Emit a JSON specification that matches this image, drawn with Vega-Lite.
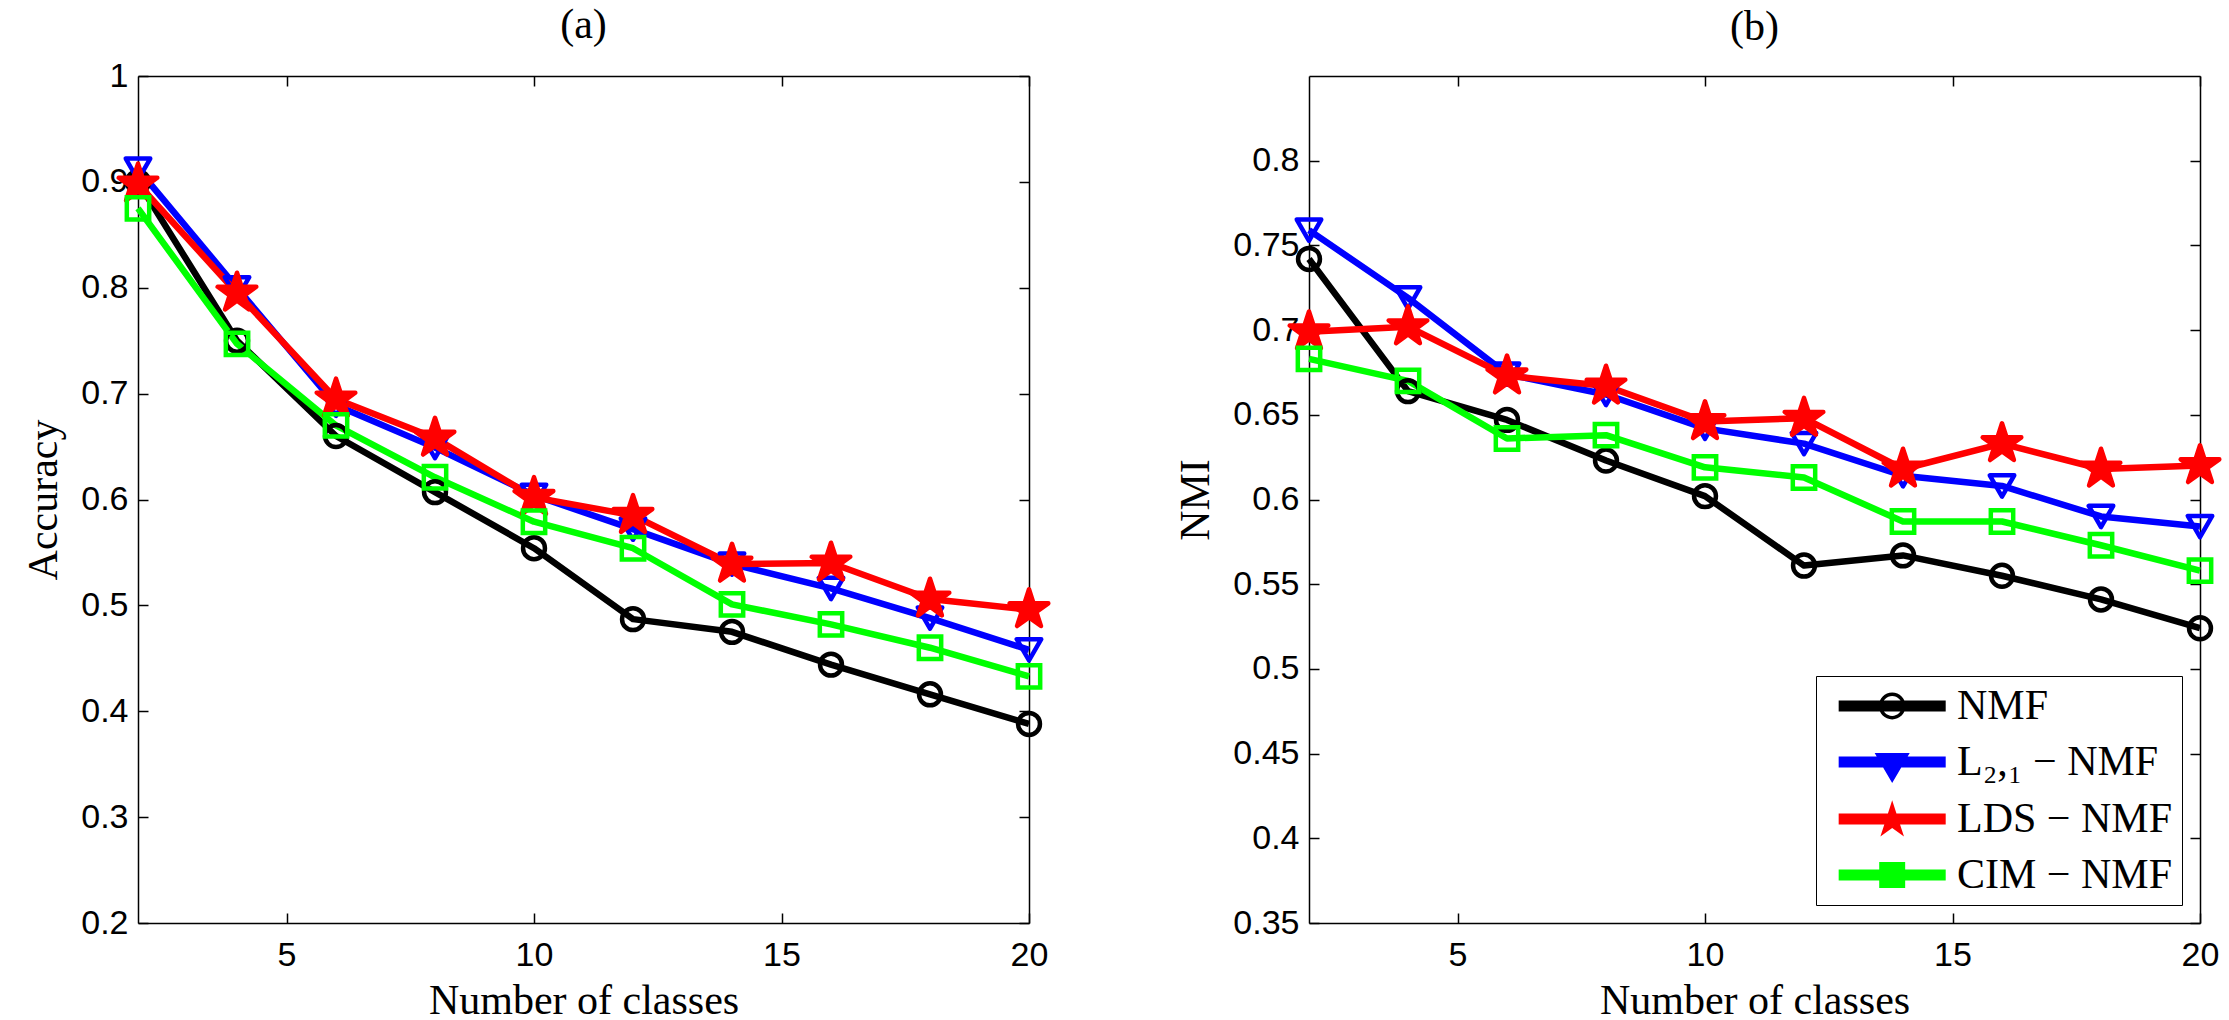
{
  "$schema": "https://vega.github.io/schema/vega-lite/v6.json",
  "autosize": "none",
  "padding": {"left": 138, "top": 76, "right": 2091, "bottom": 944},
  "background": "white",
  "datasets": {
    "acc": [
      {"method": "NMF", "k": 2, "v": 0.900}, {"method": "NMF", "k": 4, "v": 0.750}, {"method": "NMF", "k": 6, "v": 0.660}, {"method": "NMF", "k": 8, "v": 0.607}, {"method": "NMF", "k": 10, "v": 0.554},
      {"method": "NMF", "k": 12, "v": 0.487}, {"method": "NMF", "k": 14, "v": 0.475}, {"method": "NMF", "k": 16, "v": 0.444}, {"method": "NMF", "k": 18, "v": 0.416}, {"method": "NMF", "k": 20, "v": 0.388},
      {"method": "L₂,₁ − NMF", "k": 2, "v": 0.912}, {"method": "L₂,₁ − NMF", "k": 4, "v": 0.800}, {"method": "L₂,₁ − NMF", "k": 6, "v": 0.689}, {"method": "L₂,₁ − NMF", "k": 8, "v": 0.649}, {"method": "L₂,₁ − NMF", "k": 10, "v": 0.604},
      {"method": "L₂,₁ − NMF", "k": 12, "v": 0.572}, {"method": "L₂,₁ − NMF", "k": 14, "v": 0.539}, {"method": "L₂,₁ − NMF", "k": 16, "v": 0.516}, {"method": "L₂,₁ − NMF", "k": 18, "v": 0.488}, {"method": "L₂,₁ − NMF", "k": 20, "v": 0.458},
      {"method": "LDS − NMF", "k": 2, "v": 0.898}, {"method": "LDS − NMF", "k": 4, "v": 0.795}, {"method": "LDS − NMF", "k": 6, "v": 0.695}, {"method": "LDS − NMF", "k": 8, "v": 0.658}, {"method": "LDS − NMF", "k": 10, "v": 0.602},
      {"method": "LDS − NMF", "k": 12, "v": 0.585}, {"method": "LDS − NMF", "k": 14, "v": 0.539}, {"method": "LDS − NMF", "k": 16, "v": 0.540}, {"method": "LDS − NMF", "k": 18, "v": 0.506}, {"method": "LDS − NMF", "k": 20, "v": 0.496},
      {"method": "CIM − NMF", "k": 2, "v": 0.875}, {"method": "CIM − NMF", "k": 4, "v": 0.747}, {"method": "CIM − NMF", "k": 6, "v": 0.670}, {"method": "CIM − NMF", "k": 8, "v": 0.621}, {"method": "CIM − NMF", "k": 10, "v": 0.579},
      {"method": "CIM − NMF", "k": 12, "v": 0.554}, {"method": "CIM − NMF", "k": 14, "v": 0.501}, {"method": "CIM − NMF", "k": 16, "v": 0.482}, {"method": "CIM − NMF", "k": 18, "v": 0.460}, {"method": "CIM − NMF", "k": 20, "v": 0.433}
    ],
    "nmi": [
      {"method": "NMF", "k": 2, "v": 0.742}, {"method": "NMF", "k": 4, "v": 0.664}, {"method": "NMF", "k": 6, "v": 0.647}, {"method": "NMF", "k": 8, "v": 0.623}, {"method": "NMF", "k": 10, "v": 0.602},
      {"method": "NMF", "k": 12, "v": 0.561}, {"method": "NMF", "k": 14, "v": 0.567}, {"method": "NMF", "k": 16, "v": 0.555}, {"method": "NMF", "k": 18, "v": 0.541}, {"method": "NMF", "k": 20, "v": 0.524},
      {"method": "L₂,₁ − NMF", "k": 2, "v": 0.759}, {"method": "L₂,₁ − NMF", "k": 4, "v": 0.719}, {"method": "L₂,₁ − NMF", "k": 6, "v": 0.674}, {"method": "L₂,₁ − NMF", "k": 8, "v": 0.662}, {"method": "L₂,₁ − NMF", "k": 10, "v": 0.642},
      {"method": "L₂,₁ − NMF", "k": 12, "v": 0.633}, {"method": "L₂,₁ − NMF", "k": 14, "v": 0.614}, {"method": "L₂,₁ − NMF", "k": 16, "v": 0.608}, {"method": "L₂,₁ − NMF", "k": 18, "v": 0.590}, {"method": "L₂,₁ − NMF", "k": 20, "v": 0.584},
      {"method": "LDS − NMF", "k": 2, "v": 0.699}, {"method": "LDS − NMF", "k": 4, "v": 0.702}, {"method": "LDS − NMF", "k": 6, "v": 0.673}, {"method": "LDS − NMF", "k": 8, "v": 0.667}, {"method": "LDS − NMF", "k": 10, "v": 0.646},
      {"method": "LDS − NMF", "k": 12, "v": 0.648}, {"method": "LDS − NMF", "k": 14, "v": 0.618}, {"method": "LDS − NMF", "k": 16, "v": 0.633}, {"method": "LDS − NMF", "k": 18, "v": 0.618}, {"method": "LDS − NMF", "k": 20, "v": 0.620},
      {"method": "CIM − NMF", "k": 2, "v": 0.683}, {"method": "CIM − NMF", "k": 4, "v": 0.670}, {"method": "CIM − NMF", "k": 6, "v": 0.636}, {"method": "CIM − NMF", "k": 8, "v": 0.638}, {"method": "CIM − NMF", "k": 10, "v": 0.619},
      {"method": "CIM − NMF", "k": 12, "v": 0.613}, {"method": "CIM − NMF", "k": 14, "v": 0.587}, {"method": "CIM − NMF", "k": 16, "v": 0.587}, {"method": "CIM − NMF", "k": 18, "v": 0.573}, {"method": "CIM − NMF", "k": 20, "v": 0.558}
    ]
  },
  "spacing": 280,
  "bounds": "flush",
  "resolve": {"legend": {"color": "independent"}},
  "hconcat": [
    {
      "width": 891,
      "height": 847,
      "title": {"text": "(a)", "font": "Liberation Serif", "fontSize": 42, "fontWeight": "normal", "color": "#000000", "anchor": "middle", "frame": "group", "baseline": "alphabetic", "offset": 26, "dy": 47},
      "data": {"name": "acc"},
      "layer": [
        {
          "mark": {"type": "line", "strokeWidth": 6.5, "strokeJoin": "round"},
          "encoding": {
            "x": {"field": "k", "type": "quantitative", "scale": {"domain": [2, 20], "nice": false, "zero": false},
                  "axis": {"orient": "bottom", "values": [5, 10, 15, 20], "title": "Number of classes", "labelPadding": 25, "titleX": 445.5, "titleY": 90, "titleBaseline": "alphabetic"}},
            "y": {"field": "v", "type": "quantitative", "scale": {"domain": [0.2, 1], "nice": false, "zero": false},
                  "axis": {"orient": "left", "values": [0.2, 0.3, 0.4, 0.5, 0.6, 0.7, 0.8, 0.9, 1], "format": ".2~f", "title": "Accuracy", "labelPadding": 20, "titleX": -95, "titleY": 423.5, "titleBaseline": "middle", "titleAngle": -90}},
            "color": {"field": "method", "type": "nominal", "scale": {"domain": ["NMF", "L₂,₁ − NMF", "LDS − NMF", "CIM − NMF"], "range": ["#000000", "#0000ff", "#ff0000", "#00ff00"]}, "legend": null}
          }
        },
        {
          "transform": [{"filter": "datum.method === 'NMF'"}],
          "mark": {"type": "point", "shape": "circle", "size": 480, "filled": false, "color": "#000000", "strokeWidth": 4.5, "opacity": 1},
          "encoding": {
            "x": {"field": "k", "type": "quantitative", "axis": {"orient": "top", "values": [5, 10, 15, 20], "labels": false, "title": null}},
            "y": {"field": "v", "type": "quantitative", "axis": {"orient": "right", "values": [0.2, 0.3, 0.4, 0.5, 0.6, 0.7, 0.8, 0.9, 1], "labels": false, "title": null}}
          }
        },
        {
          "transform": [{"filter": "indexof(datum.method, 'L₂') >= 0"}],
          "mark": {"type": "point", "shape": "triangle-down", "size": 600, "filled": false, "color": "#0000ff", "strokeWidth": 4.5, "strokeJoin": "round", "opacity": 1},
          "encoding": {
            "x": {"field": "k", "type": "quantitative", "axis": null},
            "y": {"field": "v", "type": "quantitative", "axis": null}
          }
        },
        {
          "transform": [{"filter": "indexof(datum.method, 'LDS') >= 0"}],
          "mark": {"type": "point", "shape": "M0,-1L0.2245,-0.309L0.9511,-0.309L0.3633,0.118L0.5878,0.809L0,0.382L-0.5878,0.809L-0.3633,0.118L-0.9511,-0.309L-0.2245,-0.309Z", "size": 1650, "filled": true, "fill": "#ff0000", "stroke": "#ff0000", "strokeWidth": 4.5, "strokeJoin": "round", "opacity": 1},
          "encoding": {
            "x": {"field": "k", "type": "quantitative", "axis": null},
            "y": {"field": "v", "type": "quantitative", "axis": null}
          }
        },
        {
          "transform": [{"filter": "indexof(datum.method, 'CIM') >= 0"}],
          "mark": {"type": "point", "shape": "square", "size": 500, "filled": false, "color": "#00ff00", "strokeWidth": 4.5, "opacity": 1},
          "encoding": {
            "x": {"field": "k", "type": "quantitative", "axis": null},
            "y": {"field": "v", "type": "quantitative", "axis": null}
          }
        }
      ]
    },
    {
      "width": 891,
      "height": 847,
      "title": {"text": "(b)", "font": "Liberation Serif", "fontSize": 42, "fontWeight": "normal", "color": "#000000", "anchor": "middle", "frame": "group", "baseline": "alphabetic", "offset": 26, "dy": 33},
      "data": {"name": "nmi"},
      "layer": [
        {
          "mark": {"type": "line", "strokeWidth": 6.5, "strokeJoin": "round"},
          "encoding": {
            "x": {"field": "k", "type": "quantitative", "scale": {"domain": [2, 20], "nice": false, "zero": false},
                  "axis": {"orient": "bottom", "values": [5, 10, 15, 20], "title": "Number of classes", "labelPadding": 25, "titleX": 445.5, "titleY": 90, "titleBaseline": "alphabetic"}},
            "y": {"field": "v", "type": "quantitative", "scale": {"domain": [0.35, 0.85], "nice": false, "zero": false},
                  "axis": {"orient": "left", "values": [0.35, 0.4, 0.45, 0.5, 0.55, 0.6, 0.65, 0.7, 0.75, 0.8], "format": ".2~f", "title": "NMI", "labelPadding": 20, "titleX": -114, "titleY": 423.5, "titleBaseline": "middle", "titleAngle": -90}},
            "color": {"field": "method", "type": "nominal", "scale": {"domain": ["NMF", "L₂,₁ − NMF", "LDS − NMF", "CIM − NMF"], "range": ["#000000", "#0000ff", "#ff0000", "#00ff00"]},
              "legend": {
                "orient": "bottom-right", "offset": 18, "title": null, "padding": 9, "rowPadding": 14,
                "symbolSize": 716, "symbolOffset": 11, "labelOffset": 79, "symbolStrokeWidth": 0,
                "labelFont": "Liberation Serif", "labelFontSize": 42, "labelColor": "#000000", "labelLimit": 500,
                "strokeColor": "#000000", "fillColor": "#ffffff",
                "encode": {
                  "symbols": {
                    "update": {
                      "shape": {"signal": "datum.value === 'NMF' ? 'M-1.37,-0.41H6.63V0.41H-1.37Z M3.63,0A1,1,0,1,1,1.63,0A1,1,0,1,1,3.63,0Z M3.37,0A0.74,0.74,0,1,0,1.89,0A0.74,0.74,0,1,0,3.37,0Z' : indexof(datum.value, 'LDS') >= 0 ? 'M-1.37,-0.41H6.63V0.41H-1.37Z M2.63,-1.4L2.967,-0.364L4.057,-0.364L3.175,0.277L3.512,1.314L2.63,0.673L1.748,1.314L2.085,0.277L1.203,-0.364L2.293,-0.364Z' : indexof(datum.value, 'CIM') >= 0 ? 'M-1.37,-0.41H6.63V0.41H-1.37Z M1.66,-0.97H3.6V0.97H1.66Z' : 'M-1.37,-0.41H6.63V0.41H-1.37Z M1.32,-0.67L3.94,-0.67L2.63,1.57Z'"},
                      "fill": {"signal": "datum.value === 'NMF' ? '#000000' : indexof(datum.value, 'LDS') >= 0 ? '#ff0000' : indexof(datum.value, 'CIM') >= 0 ? '#00ff00' : '#0000ff'"},
                      "stroke": {"value": "transparent"},
                      "strokeWidth": {"value": 0},
                      "opacity": {"value": 1},
                      "size": {"value": 716}
                    }
                  }
                }
              }
            }
          }
        },
        {
          "transform": [{"filter": "datum.method === 'NMF'"}],
          "mark": {"type": "point", "shape": "circle", "size": 480, "filled": false, "color": "#000000", "strokeWidth": 4.5, "opacity": 1},
          "encoding": {
            "x": {"field": "k", "type": "quantitative", "axis": {"orient": "top", "values": [5, 10, 15, 20], "labels": false, "title": null}},
            "y": {"field": "v", "type": "quantitative", "axis": {"orient": "right", "values": [0.35, 0.4, 0.45, 0.5, 0.55, 0.6, 0.65, 0.7, 0.75, 0.8], "labels": false, "title": null}}
          }
        },
        {
          "transform": [{"filter": "indexof(datum.method, 'L₂') >= 0"}],
          "mark": {"type": "point", "shape": "triangle-down", "size": 600, "filled": false, "color": "#0000ff", "strokeWidth": 4.5, "strokeJoin": "round", "opacity": 1},
          "encoding": {
            "x": {"field": "k", "type": "quantitative", "axis": null},
            "y": {"field": "v", "type": "quantitative", "axis": null}
          }
        },
        {
          "transform": [{"filter": "indexof(datum.method, 'LDS') >= 0"}],
          "mark": {"type": "point", "shape": "M0,-1L0.2245,-0.309L0.9511,-0.309L0.3633,0.118L0.5878,0.809L0,0.382L-0.5878,0.809L-0.3633,0.118L-0.9511,-0.309L-0.2245,-0.309Z", "size": 1650, "filled": true, "fill": "#ff0000", "stroke": "#ff0000", "strokeWidth": 4.5, "strokeJoin": "round", "opacity": 1},
          "encoding": {
            "x": {"field": "k", "type": "quantitative", "axis": null},
            "y": {"field": "v", "type": "quantitative", "axis": null}
          }
        },
        {
          "transform": [{"filter": "indexof(datum.method, 'CIM') >= 0"}],
          "mark": {"type": "point", "shape": "square", "size": 500, "filled": false, "color": "#00ff00", "strokeWidth": 4.5, "opacity": 1},
          "encoding": {
            "x": {"field": "k", "type": "quantitative", "axis": null},
            "y": {"field": "v", "type": "quantitative", "axis": null}
          }
        }
      ]
    }
  ],
  "config": {
    "view": {"stroke": null},
    "axis": {
      "grid": false, "domainColor": "#000000", "domainWidth": 1.5, "tickColor": "#000000", "tickWidth": 1.5, "tickSize": -10,
      "labelFont": "Liberation Sans", "labelFontSize": 34, "labelColor": "#000000",
      "titleFont": "Liberation Serif", "titleFontSize": 42, "titleFontWeight": "normal", "titleColor": "#000000",
      "labelFlush": false, "labelOverlap": false
    }
  }
}
